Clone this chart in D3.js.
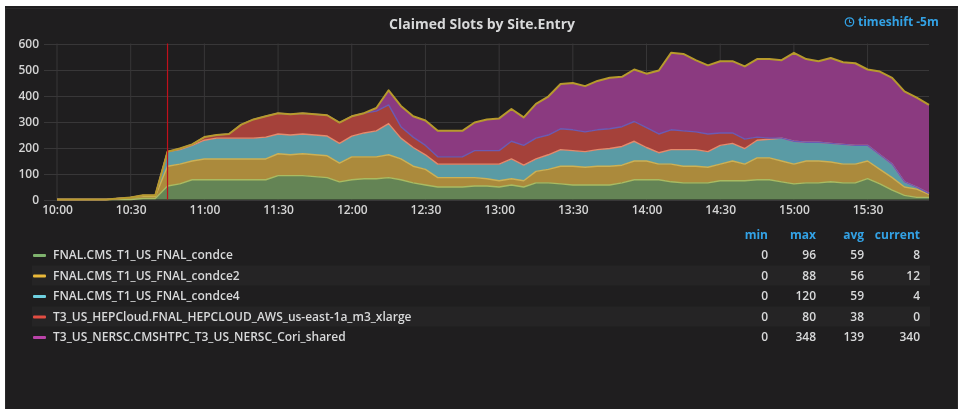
<!DOCTYPE html>
<html>
<head>
<meta charset="utf-8">
<script src="https://cdn.jsdelivr.net/npm/d3@7"></script>
<style>
  html, body { margin: 0; padding: 0; background: #fff; }
  svg { display: block; filter: blur(0.45px); }
  text { font-family: "Open Sans", sans-serif; }
</style>
</head>
<body>
<svg id="chart" width="958" height="409"></svg>
<script>
const seriesNames = [
    "FNAL.CMS_T1_US_FNAL_condce",
    "FNAL.CMS_T1_US_FNAL_condce2",
    "FNAL.CMS_T1_US_FNAL_condce4",
    "T3_US_HEPCloud.FNAL_HEPCLOUD_AWS_us-east-1a_m3_xlarge",
    "T3_US_NERSC.CMSHTPC_T3_US_NERSC_Cori_shared"
];
const legendMin = [0, 0, 0, 0, 0];
const legendMax = [96, 88, 120, 80, 348];
const legendAvg = [59, 56, 59, 38, 139];
const legendCurrent = [8, 12, 4, 0, 340];
const legendHeaders = ["min", "max", "avg", "current"];

// one value every 5 minutes, 10:00 to 15:55
const condce = [0,0,0,0,0,0,0,4,4,52,60,76,76,76,76,76,76,76,92,92,92,88,84,68,76,80,80,84,76,64,56,48,48,48,52,52,
    48,56,48,64,64,60,56,56,56,56,64,76,76,76,68,64,64,64,72,72,72,76,76,68,60,64,64,68,64,64,80,60,36,16,8,8];
const condce2 = [0,0,0,0,0,4,8,8,8,76,76,72,80,80,80,80,80,80,84,80,84,84,84,72,88,84,84,88,80,64,60,36,36,36,32,28,
    24,24,24,44,52,68,72,68,72,72,68,72,72,60,68,64,64,60,64,76,64,84,84,80,76,84,84,76,72,72,68,56,48,32,32,12];
const condce4 = [0,0,0,0,0,0,0,4,4,56,56,60,72,80,80,80,80,84,76,76,76,76,76,76,80,92,100,120,80,72,56,52,52,52,52,56,
    64,76,60,48,56,64,60,60,64,68,72,76,52,44,56,64,64,60,72,68,60,68,72,88,88,72,72,72,76,72,60,56,52,20,8,4];
const hepcloud = [0,0,0,0,0,0,0,0,0,0,4,4,12,12,16,52,72,80,80,80,80,80,80,80,76,76,76,72,44,40,36,28,28,28,52,52,
    52,68,76,80,76,80,80,76,76,76,76,76,76,72,76,72,68,68,48,40,36,12,4,0,0,0,0,0,0,0,0,0,0,0,0,0];
const nersc = [0,0,0,0,0,0,0,0,0,0,0,0,0,0,0,0,0,0,0,0,0,0,0,0,0,0,12,56,80,80,96,100,100,100,108,120,
    124,124,108,132,148,172,180,176,188,196,192,200,208,244,296,296,276,264,276,276,280,300,304,300,340,320,312,328,316,316,292,320,332,348,344,340];
const seriesValues = [condce, condce2, condce4, hepcloud, nersc];

const annotationTime = new Date(Date.UTC(2017, 0, 1, 10, 45));
const startTime = new Date(Date.UTC(2017, 0, 1, 10, 0));
const endTime = new Date(Date.UTC(2017, 0, 1, 15, 55));
const yTicks = [0, 100, 200, 300, 400, 500, 600];

// swatch colours, fills, and the line on top of each band
const swatchColors = ["#7eb26d", "#eab839", "#6ed0e0", "#e24d42", "#ba43a9"];
const fillColors = ["#648455", "#ab8a3c", "#5a9ba5", "#a5413a", "#8b3a80"];
const lineColors = ["#a9bb62", "#cdb155", "#e58a6c", "#6b5bb4", "#b79a2c"];

const times = d3.utcMinute.every(5).range(startTime, new Date(+endTime + 1));
const rows = times.map((t, i) => {
    const row = {time: t};
    seriesNames.forEach((n, j) => row[n] = seriesValues[j][i]);
    return row;
});

const svg = d3.select("#chart");

// panel
svg.append("rect").attr("x", 5).attr("y", 6).attr("width", 953).attr("height", 403).attr("fill", "#1f1e1f");
svg.append("rect").attr("x", 5.5).attr("y", 8.5).attr("width", 952).attr("height", 410)
    .attr("fill", "none").attr("stroke", "#2a292a");

const x = d3.scaleUtc().domain([startTime, endTime]).range([57, 929]);
const y = d3.scaleLinear().domain([0, 600]).range([199.5, 43.5]);

// grid
svg.append("g").attr("stroke", "#383738").attr("stroke-width", 1)
    .selectAll("line").data(yTicks).join("line")
    .attr("x1", 44).attr("x2", 929)
    .attr("y1", d => Math.round(y(d)) + .5).attr("y2", d => Math.round(y(d)) + .5);
svg.append("g").attr("stroke", "#383738").attr("stroke-width", 1)
    .selectAll("line").data(x.ticks(d3.utcMinute.every(30))).join("line")
    .attr("x1", d => x(d)).attr("x2", d => x(d))
    .attr("y1", 43.5).attr("y2", 199.5);

// stacked bands
const stacked = d3.stack().keys(seriesNames)(rows);
const area = d3.area()
    .x(d => x(d.data.time))
    .y0(d => y(d[0]))
    .y1(d => y(d[1]));
const topLine = d3.line()
    .x(d => x(d.data.time))
    .y(d => y(d[1]));

svg.append("g").selectAll("path").data(stacked).join("path")
    .attr("d", area)
    .attr("fill", (d, i) => fillColors[i]);
svg.append("g").selectAll("path").data(stacked).join("path")
    .attr("d", topLine)
    .attr("fill", "none")
    .attr("stroke", (d, i) => lineColors[i])
    .attr("stroke-width", (d, i) => i === 4 ? 2 : 1.4)
    .attr("stroke-linejoin", "round");

// annotation
svg.append("line")
    .attr("x1", x(annotationTime)).attr("x2", x(annotationTime))
    .attr("y1", 43.5).attr("y2", 199.5)
    .attr("stroke", "#c0101c").attr("stroke-width", 1.2);

// axes
const yAxis = svg.append("g")
    .attr("transform", "translate(39,0)")
    .call(d3.axisLeft(y).tickValues(yTicks).tickSize(0).tickPadding(0));
const xAxis = svg.append("g")
    .attr("transform", "translate(0,199.5)")
    .call(d3.axisBottom(x).ticks(d3.utcMinute.every(30)).tickFormat(d3.utcFormat("%H:%M")).tickSize(0).tickPadding(6));
yAxis.select(".domain").remove();
xAxis.select(".domain").remove();
svg.selectAll(".tick text")
    .attr("fill", "#d4d4d4")
    .style("font-size", "12px")
    .style("font-weight", 600)
    .style("font-family", '"Open Sans", sans-serif');

// title and timeshift note
svg.append("text").attr("x", 482).attr("y", 29)
    .attr("text-anchor", "middle")
    .attr("fill", "#d8d9da")
    .style("font-size", "14px").style("font-weight", 700)
    .text("Claimed Slots by Site.Entry");
svg.append("circle").attr("cx", 849.5).attr("cy", 22).attr("r", 4.2)
    .attr("fill", "none").attr("stroke", "#33a2e5").attr("stroke-width", 1.3);
svg.append("path").attr("d", "M849.5 19.5V22.5H851.5")
    .attr("fill", "none").attr("stroke", "#33a2e5").attr("stroke-width", 1);
svg.append("text").attr("x", 858).attr("y", 26)
    .attr("fill", "#33a2e5")
    .style("font-size", "12px").style("font-weight", 700)
    .text("timeshift -5m");

// legend table
const columnX = [768, 816, 864, 920];
const legendY = d3.scalePoint().domain(d3.range(seriesNames.length)).range([255, 337]);

svg.append("g").selectAll("rect").data([1, 3]).join("rect")
    .attr("x", 32).attr("width", 898)
    .attr("y", d => legendY(d) - 10).attr("height", 20)
    .attr("fill", "#252425");

svg.append("g").selectAll("text").data(legendHeaders).join("text")
    .attr("x", (d, i) => columnX[i]).attr("y", 239)
    .attr("text-anchor", "end")
    .attr("fill", "#33a2e5")
    .style("font-size", "12px").style("font-weight", 700)
    .text(d => d);

const legendRow = svg.append("g").selectAll("g").data(seriesNames).join("g")
    .attr("transform", (d, i) => `translate(0,${legendY(i)})`);
legendRow.append("rect")
    .attr("x", 33).attr("y", -1).attr("width", 13).attr("height", 3).attr("rx", 1)
    .attr("fill", (d, i) => swatchColors[i]);
legendRow.append("text")
    .attr("x", 53).attr("y", 4)
    .attr("fill", "#d8d9da")
    .style("font-size", "12px")
    .style("font-weight", 600)
    .text(d => d);
[legendMin, legendMax, legendAvg, legendCurrent].forEach((column, c) => {
    legendRow.append("text")
        .attr("x", columnX[c]).attr("y", 4)
        .attr("text-anchor", "end")
        .attr("fill", "#d8d9da")
        .style("font-size", "12px")
        .style("font-weight", 600)
        .text((d, i) => column[i]);
});
</script>
</body>
</html>
